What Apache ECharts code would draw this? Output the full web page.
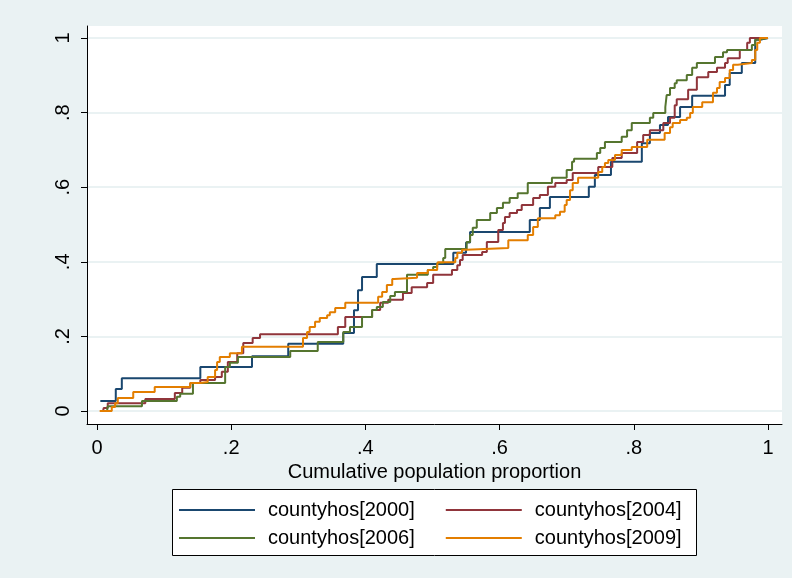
<!DOCTYPE html>
<html>
<head>
<meta charset="utf-8">
<script src="https://cdn.jsdelivr.net/npm/echarts@6/dist/echarts.min.js"></script>
<style>
  html, body { margin: 0; padding: 0; background: #eaf2f3; }
  #chart { width: 792px; height: 578px; }
</style>
</head>
<body>
<div id="chart"></div>
<script>
// tick positions on both axes
const tickValues = [0, 0.2, 0.4, 0.6, 0.8, 1]
const tickLabels = ['0', '.2', '.4', '.6', '.8', '1']

const seriesNames = ['countyhos[2000]', 'countyhos[2004]', 'countyhos[2006]', 'countyhos[2009]']
const seriesColors = ['#1a476f', '#90353b', '#55752f', '#e37e00']

// each curve: x where the step happens, and the level after it
const x2000 = [0.005, 0.028, 0.037, 0.154, 0.231, 0.285, 0.367, 0.383, 0.389, 0.395, 0.417, 0.531, 0.550, 0.556, 0.645, 0.660, 0.675, 0.733, 0.742, 0.766, 0.812, 0.824, 0.839, 0.851, 0.869, 0.887, 0.936, 0.943, 0.961, 0.981, 0.988, 1.0]
const y2000 = [0.027, 0.059, 0.088, 0.118, 0.147, 0.180, 0.209, 0.270, 0.324, 0.359, 0.394, 0.424, 0.452, 0.480, 0.512, 0.544, 0.574, 0.601, 0.633, 0.668, 0.718, 0.745, 0.767, 0.788, 0.815, 0.845, 0.874, 0.906, 0.933, 0.995, 1.0, 1.0]

const x2004 = [0.009, 0.010, 0.016, 0.072, 0.116, 0.127, 0.139, 0.154, 0.176, 0.186, 0.195, 0.209, 0.218, 0.232, 0.243, 0.359, 0.370, 0.410, 0.422, 0.434, 0.456, 0.469, 0.492, 0.501, 0.529, 0.537, 0.541, 0.545, 0.574, 0.581, 0.598, 0.605, 0.608, 0.615, 0.626, 0.633, 0.650, 0.660, 0.672, 0.683, 0.700, 0.709, 0.747, 0.768, 0.782, 0.805, 0.814, 0.824, 0.844, 0.854, 0.861, 0.864, 0.881, 0.894, 0.911, 0.924, 0.936, 0.940, 0.958, 0.969, 0.973, 1.0]
const y2004 = [0.0, 0.008, 0.021, 0.032, 0.048, 0.062, 0.075, 0.083, 0.091, 0.105, 0.131, 0.155, 0.182, 0.196, 0.206, 0.225, 0.252, 0.271, 0.290, 0.298, 0.316, 0.332, 0.343, 0.365, 0.378, 0.391, 0.405, 0.418, 0.426, 0.453, 0.485, 0.504, 0.520, 0.531, 0.539, 0.552, 0.571, 0.579, 0.601, 0.611, 0.619, 0.638, 0.654, 0.678, 0.692, 0.721, 0.740, 0.753, 0.772, 0.786, 0.820, 0.836, 0.861, 0.895, 0.909, 0.920, 0.933, 0.946, 0.968, 0.987, 1.0, 1.0]

const x2006 = [0.015, 0.016, 0.067, 0.119, 0.124, 0.143, 0.191, 0.198, 0.210, 0.288, 0.329, 0.367, 0.377, 0.395, 0.410, 0.417, 0.426, 0.437, 0.444, 0.462, 0.493, 0.501, 0.507, 0.516, 0.519, 0.551, 0.556, 0.560, 0.566, 0.586, 0.596, 0.605, 0.615, 0.627, 0.642, 0.678, 0.700, 0.708, 0.711, 0.745, 0.750, 0.757, 0.782, 0.790, 0.797, 0.824, 0.829, 0.847, 0.849, 0.854, 0.861, 0.864, 0.879, 0.887, 0.894, 0.921, 0.933, 0.939, 0.976, 0.981, 0.985, 1.0]
const y2006 = [0.0, 0.013, 0.027, 0.038, 0.046, 0.075, 0.118, 0.129, 0.145, 0.161, 0.185, 0.212, 0.225, 0.252, 0.271, 0.279, 0.292, 0.308, 0.319, 0.365, 0.378, 0.386, 0.397, 0.410, 0.434, 0.453, 0.472, 0.491, 0.512, 0.531, 0.544, 0.558, 0.571, 0.584, 0.611, 0.625, 0.646, 0.668, 0.676, 0.692, 0.705, 0.721, 0.735, 0.753, 0.772, 0.786, 0.799, 0.815, 0.847, 0.866, 0.879, 0.887, 0.901, 0.920, 0.933, 0.949, 0.962, 0.968, 0.981, 0.995, 1.0, 1.0]

const x2009 = [0.004, 0.022, 0.027, 0.031, 0.054, 0.086, 0.139, 0.154, 0.165, 0.176, 0.179, 0.183, 0.198, 0.216, 0.307, 0.313, 0.317, 0.325, 0.332, 0.343, 0.347, 0.355, 0.370, 0.419, 0.425, 0.432, 0.440, 0.443, 0.477, 0.493, 0.507, 0.508, 0.534, 0.537, 0.544, 0.551, 0.613, 0.642, 0.650, 0.657, 0.683, 0.690, 0.697, 0.700, 0.705, 0.709, 0.717, 0.747, 0.753, 0.757, 0.762, 0.772, 0.782, 0.797, 0.820, 0.846, 0.854, 0.858, 0.869, 0.879, 0.884, 0.888, 0.902, 0.918, 0.924, 0.928, 0.936, 0.943, 0.948, 0.955, 0.976, 0.981, 0.984, 0.988, 1.0]
const y2009 = [0.0, 0.011, 0.021, 0.035, 0.051, 0.064, 0.075, 0.078, 0.091, 0.110, 0.131, 0.145, 0.155, 0.172, 0.196, 0.212, 0.225, 0.239, 0.249, 0.257, 0.265, 0.276, 0.290, 0.306, 0.319, 0.338, 0.354, 0.357, 0.370, 0.378, 0.391, 0.399, 0.410, 0.424, 0.432, 0.437, 0.458, 0.472, 0.493, 0.517, 0.525, 0.534, 0.552, 0.566, 0.592, 0.611, 0.625, 0.641, 0.654, 0.665, 0.673, 0.686, 0.700, 0.708, 0.727, 0.745, 0.761, 0.772, 0.780, 0.786, 0.799, 0.815, 0.828, 0.853, 0.866, 0.882, 0.893, 0.914, 0.928, 0.933, 0.941, 0.968, 0.987, 1.0, 1.0]

const curveX = [x2000, x2004, x2006, x2009]
const curveY = [y2000, y2004, y2006, y2009]

const font = "'Liberation Sans', Arial, sans-serif"
const chart = echarts.init(document.getElementById('chart'))

const series = seriesNames.map((name, i) => ({
  name: name,
  type: 'line',
  step: 'end',
  symbol: 'none',
  data: curveX[i].map((x, k) => [x, curveY[i][k]]),
  lineStyle: { color: seriesColors[i], width: 2 },
  itemStyle: { color: seriesColors[i] },
  emphasis: { disabled: true },
  animation: false
}))

// legend icon is a thin bar, like a short line sample
const legendCommon = {
  orient: 'horizontal',
  padding: 0,
  itemGap: 31,
  itemWidth: 76,
  itemHeight: 2,
  icon: 'rect',
  selectedMode: false,
  textStyle: { fontFamily: font, fontSize: 20, color: '#000', padding: [0, 0, 0, 8] }
}

const option = {
  backgroundColor: '#eaf2f3',
  grid: {
    left: 87,
    right: 10,
    top: 26,
    bottom: 154,
    show: true,
    backgroundColor: '#ffffff',
    borderWidth: 0
  },
  xAxis: {
    type: 'value',
    min: -0.0149,
    max: 1.0209,
    name: 'Cumulative population proportion',
    nameLocation: 'middle',
    nameGap: 32,
    nameTextStyle: { fontFamily: font, fontSize: 20, color: '#000' },
    axisLine: { show: true, onZero: false, lineStyle: { color: '#000', width: 1 } },
    axisTick: { show: true, length: 6, customValues: tickValues, lineStyle: { color: '#000' } },
    axisLabel: {
      customValues: tickValues,
      margin: 14,
      fontFamily: font,
      fontSize: 20,
      color: '#000',
      formatter: v => tickLabels[tickValues.indexOf(Math.round(v * 10) / 10)]
    },
    splitLine: { show: false }
  },
  yAxis: {
    type: 'value',
    min: -0.0349,
    max: 1.0322,
    axisLine: { show: true, onZero: false, lineStyle: { color: '#000', width: 1 } },
    axisTick: { show: true, length: 6, customValues: tickValues, lineStyle: { color: '#000' } },
    axisLabel: {
      customValues: tickValues,
      rotate: 90,
      margin: 14,
      fontFamily: font,
      fontSize: 20,
      color: '#000',
      formatter: v => tickLabels[tickValues.indexOf(Math.round(v * 10) / 10)]
    },
    splitLine: { show: true, lineStyle: { color: '#eaf2f3', width: 2 } }
  },
  graphic: [{
    type: 'rect',
    z: 0,
    shape: { x: 172.5, y: 489.5, width: 524, height: 66 },
    style: { fill: '#ffffff', stroke: '#000000', lineWidth: 1 }
  }],
  legend: [
    Object.assign({ data: [seriesNames[0], seriesNames[1]], left: 179, top: 500 }, legendCommon),
    Object.assign({ data: [seriesNames[2], seriesNames[3]], left: 179, top: 528 }, legendCommon)
  ],
  series: series
}

chart.setOption(option)
</script>
</body>
</html>
